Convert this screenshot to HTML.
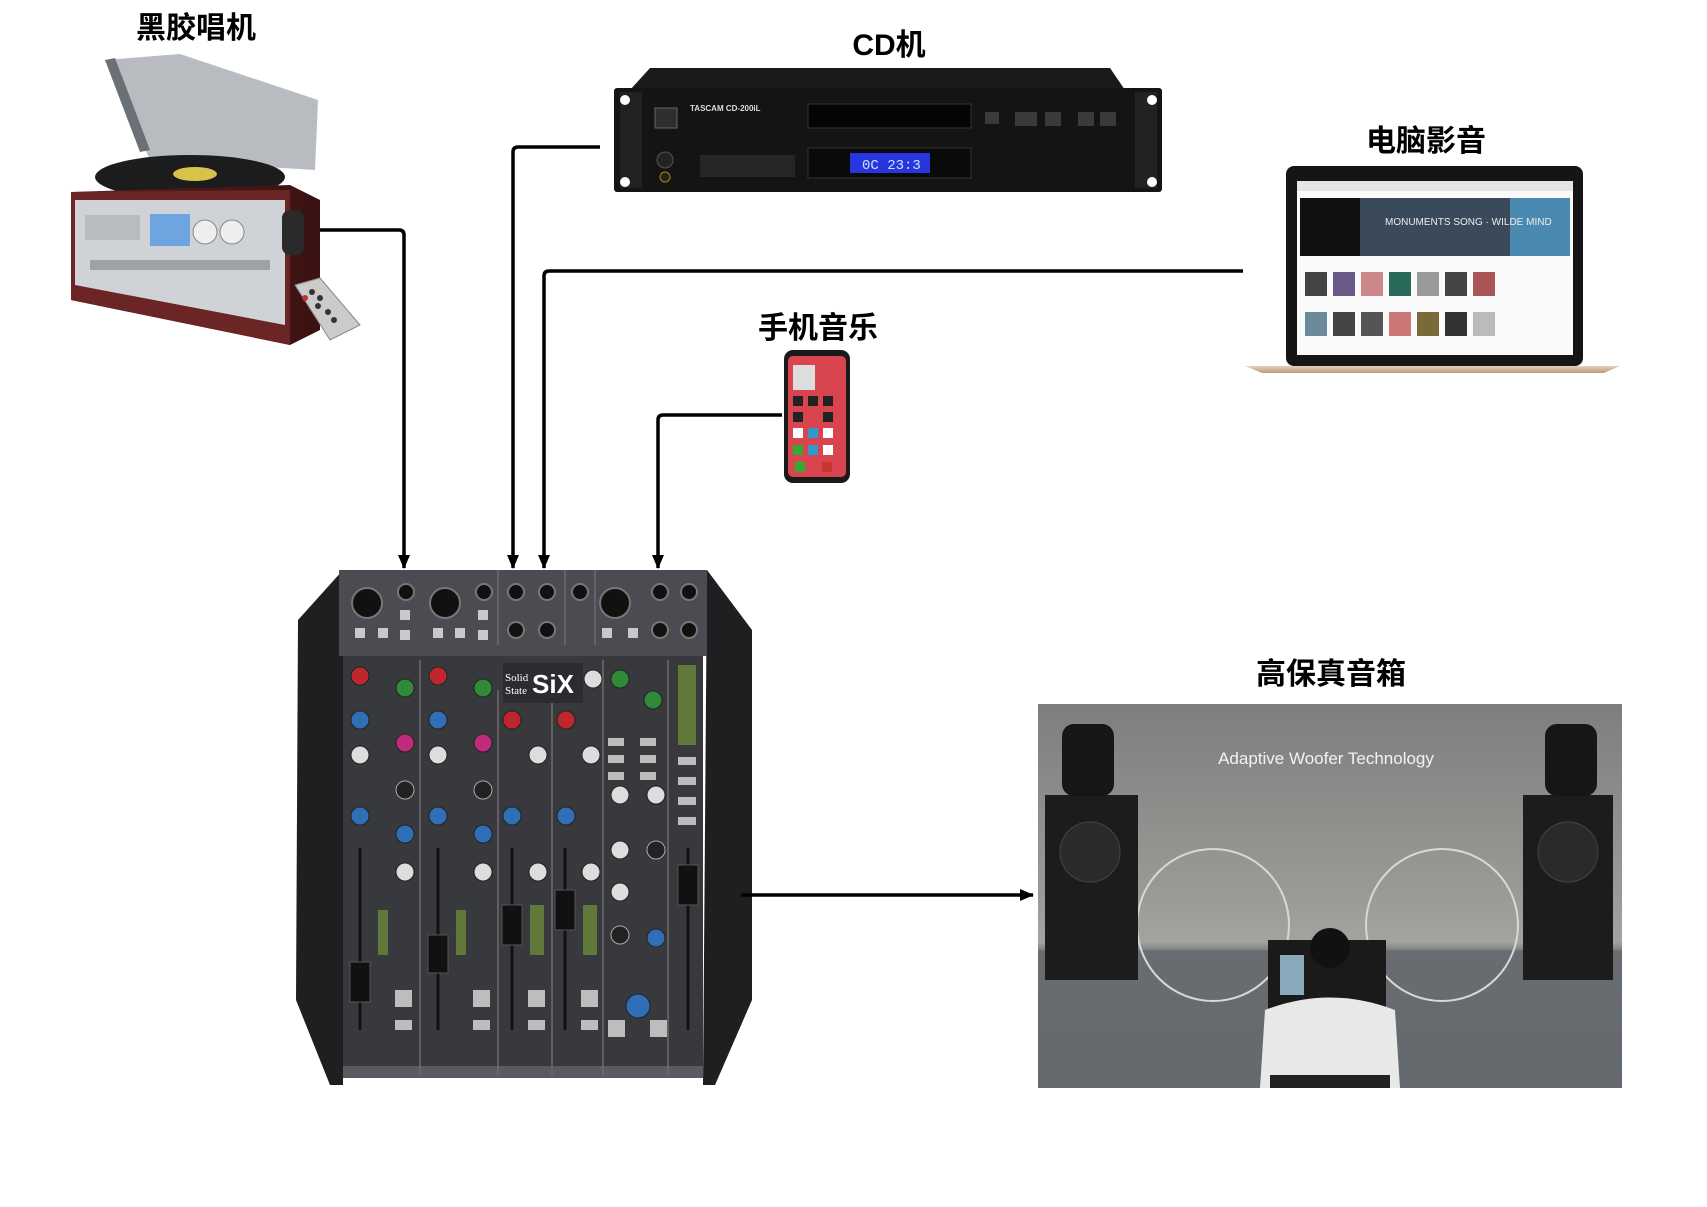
<!DOCTYPE html>
<html><head><meta charset="utf-8"><style>
html,body{margin:0;padding:0;background:#fff;}
body{width:1707px;height:1207px;position:relative;overflow:hidden;font-family:"Liberation Sans","Noto Sans CJK SC",sans-serif;}
.lbl{position:absolute;font-size:30px;font-weight:bold;color:#000;transform:translateX(-50%);white-space:nowrap;line-height:1;font-family:"Liberation Sans","Noto Sans CJK SC",sans-serif;}
</style></head><body>
<div class="lbl" style="left:196px;top:14px;">黑胶唱机</div>
<div class="lbl" style="left:889px;top:31px;">CD机</div>
<div class="lbl" style="left:1426px;top:127px;">电脑影音</div>
<div class="lbl" style="left:818px;top:314px;">手机音乐</div>
<div class="lbl" style="left:1331px;top:660px;">高保真音箱</div>
<svg width="1707" height="1207" style="position:absolute;left:0;top:0" xmlns="http://www.w3.org/2000/svg">
<defs>
<marker id="ar" markerWidth="14" markerHeight="12" refX="13" refY="6" orient="auto" markerUnits="userSpaceOnUse" viewBox="0 0 14 12">
<path d="M0,0 L14,6 L0,12 Z" fill="#000"/></marker>
<linearGradient id="wall" x1="0" y1="0" x2="0" y2="1"><stop offset="0" stop-color="#7e7f7d"/><stop offset="0.5" stop-color="#9a9a97"/><stop offset="0.62" stop-color="#a3a3a0"/><stop offset="0.65" stop-color="#6f7275"/><stop offset="1" stop-color="#5d6064"/></linearGradient>
<linearGradient id="gold" x1="0" y1="0" x2="0" y2="1"><stop offset="0" stop-color="#e6d3b8"/><stop offset="1" stop-color="#b89a78"/></linearGradient>
<linearGradient id="wood" x1="0" y1="0" x2="1" y2="0"><stop offset="0" stop-color="#5a1f1f"/><stop offset="1" stop-color="#3a1212"/></linearGradient>
</defs>

<!-- Turntable -->
<g>
<polygon points="105,60 180,54 318,100 315,170 150,160" fill="#9aa0a6" opacity="0.7"/>
<polygon points="105,60 115,58 150,150 140,152" fill="#6a7076"/>
<ellipse cx="190" cy="177" rx="95" ry="22" fill="#1c1c1c"/>
<ellipse cx="195" cy="174" rx="22" ry="7" fill="#d8c34a"/>
<polygon points="71,192 290,185 320,200 320,330 290,345 71,300" fill="url(#wood)"/>
<polygon points="71,192 290,190 290,345 71,300" fill="#6b2525"/>
<polygon points="75,200 285,200 285,325 75,285" fill="#cfd2d6"/>
<rect x="150" y="214" width="40" height="32" fill="#6ea4e0"/>
<circle cx="205" cy="232" r="12" fill="#eee" stroke="#888"/>
<circle cx="232" cy="232" r="12" fill="#eee" stroke="#888"/>
<rect x="85" y="215" width="55" height="25" fill="#b8bbbf"/>
<rect x="90" y="260" width="180" height="10" fill="#9ea2a6"/>
<rect x="282" y="210" width="22" height="45" rx="8" fill="#2a2a2a"/>
<polygon points="295,285 320,278 360,325 330,340" fill="#cbcbcb" stroke="#888"/>
<g fill="#333"><circle cx="312" cy="292" r="3"/><circle cx="320" cy="298" r="3"/><circle cx="318" cy="306" r="3"/><circle cx="328" cy="312" r="3"/><circle cx="334" cy="320" r="3"/><circle cx="305" cy="298" r="3" fill="#b33"/></g>
</g>

<!-- CD player -->
<g>
<polygon points="650,68 1110,68 1125,90 630,90" fill="#1a1a1a"/>
<rect x="614" y="88" width="548" height="104" rx="3" fill="#141414"/>
<rect x="620" y="92" width="22" height="96" fill="#222"/>
<rect x="1135" y="92" width="22" height="96" fill="#222"/>
<circle cx="625" cy="100" r="5" fill="#fff"/><circle cx="625" cy="182" r="5" fill="#fff"/>
<circle cx="1152" cy="100" r="5" fill="#fff"/><circle cx="1152" cy="182" r="5" fill="#fff"/>
<rect x="655" y="108" width="22" height="20" fill="#2e2e2e" stroke="#666"/>
<text x="690" y="111" font-size="8" fill="#ddd" font-family="Liberation Sans" font-weight="bold">TASCAM  CD-200iL</text>
<rect x="808" y="104" width="163" height="24" fill="#050505" stroke="#333"/>
<rect x="808" y="148" width="163" height="30" fill="#0a0a0a" stroke="#333"/>
<rect x="850" y="153" width="80" height="20" fill="#2836e0"/>
<text x="862" y="169" font-size="14" fill="#cfe0ff" font-family="Liberation Mono">0C 23:3</text>
<rect x="700" y="155" width="95" height="22" fill="#262626"/>
<g fill="#3a3a3a"><rect x="985" y="112" width="14" height="12"/><rect x="1015" y="112" width="22" height="14"/><rect x="1045" y="112" width="16" height="14"/><rect x="1078" y="112" width="16" height="14"/><rect x="1100" y="112" width="16" height="14"/></g>
<circle cx="665" cy="160" r="8" fill="#222" stroke="#555"/><circle cx="665" cy="177" r="5" fill="#222" stroke="#a80"/>
</g>

<!-- Laptop -->
<g>
<rect x="1286" y="166" width="297" height="200" rx="8" fill="#151515"/>
<rect x="1297" y="181" width="276" height="174" fill="#fafafa"/>
<rect x="1297" y="181" width="276" height="10" fill="#e5e5e5"/>
<rect x="1300" y="198" width="60" height="58" fill="#111"/>
<rect x="1360" y="198" width="150" height="58" fill="#3a4a5a"/>
<rect x="1510" y="198" width="60" height="58" fill="#4a8ab0"/>
<text x="1385" y="225" font-size="10" fill="#eee" font-family="Liberation Sans">MONUMENTS SONG · WILDE MIND</text>
<g fill="#444">
<rect x="1305" y="272" width="22" height="24"/><rect x="1333" y="272" width="22" height="24" fill="#6a5a8a"/><rect x="1361" y="272" width="22" height="24" fill="#c88"/><rect x="1389" y="272" width="22" height="24" fill="#2a6a5a"/><rect x="1417" y="272" width="22" height="24" fill="#999"/><rect x="1445" y="272" width="22" height="24"/><rect x="1473" y="272" width="22" height="24" fill="#a55"/>
<rect x="1305" y="312" width="22" height="24" fill="#6a8a9a"/><rect x="1333" y="312" width="22" height="24"/><rect x="1361" y="312" width="22" height="24" fill="#555"/><rect x="1389" y="312" width="22" height="24" fill="#c77"/><rect x="1417" y="312" width="22" height="24" fill="#7a6a3a"/><rect x="1445" y="312" width="22" height="24" fill="#333"/><rect x="1473" y="312" width="22" height="24" fill="#bbb"/>
</g>
<polygon points="1245,366 1620,366 1604,373 1262,373" fill="url(#gold)"/>
</g>

<!-- Phone -->
<g>
<rect x="784" y="350" width="66" height="133" rx="9" fill="#1a1a1a"/>
<rect x="788" y="356" width="58" height="121" rx="5" fill="#d9454f"/>
<rect x="793" y="365" width="22" height="25" fill="#ddd"/>
<g fill="#222"><rect x="793" y="396" width="10" height="10"/><rect x="808" y="396" width="10" height="10"/><rect x="823" y="396" width="10" height="10"/><rect x="793" y="412" width="10" height="10"/><rect x="823" y="412" width="10" height="10"/></g>
<g fill="#fff"><rect x="793" y="428" width="10" height="10"/><rect x="808" y="428" width="10" height="10" fill="#39c"/><rect x="823" y="428" width="10" height="10"/><rect x="793" y="445" width="10" height="10" fill="#3a3"/><rect x="808" y="445" width="10" height="10" fill="#39c"/><rect x="823" y="445" width="10" height="10"/><rect x="795" y="462" width="10" height="10" fill="#3a3"/><rect x="822" y="462" width="10" height="10" fill="#c33"/></g>
</g>

<!-- Speakers photo -->
<g>
<rect x="1038" y="704" width="584" height="384" fill="url(#wall)"/>
<polygon points="1038,950 1622,950 1622,1088 1038,1088" fill="#676b70" opacity="0.8"/>
<text x="1326" y="764" font-size="17" fill="#f2f2f2" text-anchor="middle" font-family="Liberation Sans">Adaptive Woofer Technology</text>
<circle cx="1213" cy="925" r="76" fill="none" stroke="#d8d8d8" stroke-width="2"/>
<circle cx="1442" cy="925" r="76" fill="none" stroke="#d8d8d8" stroke-width="2"/>
<rect x="1045" y="795" width="93" height="185" fill="#1c1c1c"/>
<circle cx="1090" cy="852" r="30" fill="#2a2a2a" stroke="#444"/>
<rect x="1062" y="724" width="52" height="72" rx="12" fill="#161616"/>
<rect x="1523" y="795" width="90" height="185" fill="#1c1c1c"/>
<circle cx="1568" cy="852" r="30" fill="#2a2a2a" stroke="#444"/>
<rect x="1545" y="724" width="52" height="72" rx="12" fill="#161616"/>
<rect x="1268" y="940" width="118" height="80" fill="#1a1a1a"/>
<rect x="1280" y="955" width="24" height="40" fill="#8ab"/>
<circle cx="1330" cy="948" r="20" fill="#111"/>
<path d="M1260,1088 L1265,1010 Q1330,985 1395,1010 L1400,1088 Z" fill="#e8e8e8"/>
<rect x="1270" y="1075" width="120" height="13" fill="#222"/>
</g>

<!-- Mixer -->
<g>
<polygon points="343,570 298,620 296,1000 330,1085 343,1085" fill="#1f1f22"/>
<polygon points="707,570 752,630 752,1000 715,1085 703,1085" fill="#1f1f22"/>
<rect x="339" y="570" width="368" height="86" fill="#4b4c51"/>
<rect x="343" y="656" width="360" height="422" fill="#38393d"/>
<rect x="343" y="1066" width="360" height="12" fill="#5a5b60"/>
<g stroke="#6a6b70" stroke-width="1.5">
<line x1="420" y1="660" x2="420" y2="1075"/><line x1="498" y1="690" x2="498" y2="1075"/><line x1="552" y1="700" x2="552" y2="1075"/><line x1="603" y1="660" x2="603" y2="1075"/><line x1="668" y1="660" x2="668" y2="1075"/>
<line x1="498" y1="570" x2="498" y2="645"/><line x1="565" y1="570" x2="565" y2="645"/><line x1="595" y1="570" x2="595" y2="645"/></g>
<g fill="#111" stroke="#777" stroke-width="2">
<circle cx="367" cy="603" r="15"/><circle cx="445" cy="603" r="15"/><circle cx="615" cy="603" r="15"/>
<circle cx="406" cy="592" r="8"/><circle cx="484" cy="592" r="8"/><circle cx="516" cy="592" r="8"/><circle cx="547" cy="592" r="8"/><circle cx="580" cy="592" r="8"/><circle cx="660" cy="592" r="8"/><circle cx="689" cy="592" r="8"/>
<circle cx="516" cy="630" r="8"/><circle cx="547" cy="630" r="8"/><circle cx="660" cy="630" r="8"/><circle cx="689" cy="630" r="8"/></g>
<g fill="#c9c9c9"><rect x="400" y="610" width="10" height="10"/><rect x="400" y="630" width="10" height="10"/><rect x="478" y="610" width="10" height="10"/><rect x="478" y="630" width="10" height="10"/><rect x="355" y="628" width="10" height="10"/><rect x="378" y="628" width="10" height="10"/><rect x="433" y="628" width="10" height="10"/><rect x="455" y="628" width="10" height="10"/><rect x="602" y="628" width="10" height="10"/><rect x="628" y="628" width="10" height="10"/></g>
<rect x="503" y="663" width="80" height="40" fill="#2b2c30"/>
<text x="505" y="681" font-size="11" fill="#fff" font-family="Liberation Serif">Solid</text>
<text x="505" y="694" font-size="11" fill="#fff" font-family="Liberation Serif">State</text>
<text x="532" y="693" font-size="26" fill="#fff" font-weight="bold" font-family="Liberation Sans">SiX</text>
<g stroke="#222" stroke-width="1">
<circle cx="360" cy="676" r="9" fill="#c0272d"/><circle cx="438" cy="676" r="9" fill="#c0272d"/><circle cx="405" cy="688" r="9" fill="#2f8a3a"/><circle cx="483" cy="688" r="9" fill="#2f8a3a"/>
<circle cx="593" cy="679" r="9" fill="#ddd"/><circle cx="620" cy="679" r="9" fill="#2f8a3a"/><circle cx="653" cy="700" r="9" fill="#2f8a3a"/>
<circle cx="360" cy="720" r="9" fill="#2e6fb8"/><circle cx="438" cy="720" r="9" fill="#2e6fb8"/><circle cx="512" cy="720" r="9" fill="#c0272d"/><circle cx="566" cy="720" r="9" fill="#c0272d"/>
<circle cx="405" cy="743" r="9" fill="#c02a7a"/><circle cx="483" cy="743" r="9" fill="#c02a7a"/>
<circle cx="360" cy="755" r="9" fill="#ddd"/><circle cx="438" cy="755" r="9" fill="#ddd"/><circle cx="538" cy="755" r="9" fill="#ddd"/><circle cx="591" cy="755" r="9" fill="#ddd"/>
<circle cx="405" cy="790" r="9" fill="#222" stroke="#aaa"/><circle cx="483" cy="790" r="9" fill="#222" stroke="#aaa"/>
<circle cx="360" cy="816" r="9" fill="#2e6fb8"/><circle cx="438" cy="816" r="9" fill="#2e6fb8"/><circle cx="512" cy="816" r="9" fill="#2e6fb8"/><circle cx="566" cy="816" r="9" fill="#2e6fb8"/>
<circle cx="405" cy="834" r="9" fill="#2e6fb8"/><circle cx="483" cy="834" r="9" fill="#2e6fb8"/>
<circle cx="405" cy="872" r="9" fill="#ddd"/><circle cx="483" cy="872" r="9" fill="#ddd"/><circle cx="538" cy="872" r="9" fill="#ddd"/><circle cx="591" cy="872" r="9" fill="#ddd"/>
<circle cx="620" cy="795" r="9" fill="#ddd"/><circle cx="656" cy="795" r="9" fill="#ddd"/>
<circle cx="620" cy="850" r="9" fill="#ddd"/><circle cx="656" cy="850" r="9" fill="#222" stroke="#aaa"/>
<circle cx="620" cy="892" r="9" fill="#ddd"/><circle cx="620" cy="935" r="9" fill="#222" stroke="#aaa"/><circle cx="656" cy="938" r="9" fill="#2e6fb8"/>
<circle cx="638" cy="1006" r="12" fill="#2e6fb8"/></g>
<g fill="#bdbdbd"><rect x="608" y="738" width="16" height="8"/><rect x="640" y="738" width="16" height="8"/><rect x="608" y="755" width="16" height="8"/><rect x="640" y="755" width="16" height="8"/><rect x="608" y="772" width="16" height="8"/><rect x="640" y="772" width="16" height="8"/>
<rect x="395" y="990" width="17" height="17"/><rect x="473" y="990" width="17" height="17"/><rect x="528" y="990" width="17" height="17"/><rect x="581" y="990" width="17" height="17"/><rect x="608" y="1020" width="17" height="17"/><rect x="650" y="1020" width="17" height="17"/>
<rect x="395" y="1020" width="17" height="10"/><rect x="473" y="1020" width="17" height="10"/><rect x="528" y="1020" width="17" height="10"/><rect x="581" y="1020" width="17" height="10"/>
<rect x="678" y="757" width="18" height="8"/><rect x="678" y="777" width="18" height="8"/><rect x="678" y="797" width="18" height="8"/><rect x="678" y="817" width="18" height="8"/></g>
<g stroke="#111" stroke-width="3"><line x1="360" y1="848" x2="360" y2="1030"/><line x1="438" y1="848" x2="438" y2="1030"/><line x1="512" y1="848" x2="512" y2="1030"/><line x1="565" y1="848" x2="565" y2="1030"/><line x1="688" y1="848" x2="688" y2="1030"/></g>
<g fill="#111" stroke="#555"><rect x="350" y="962" width="20" height="40"/><rect x="428" y="935" width="20" height="38"/><rect x="502" y="905" width="20" height="40"/><rect x="555" y="890" width="20" height="40"/><rect x="678" y="865" width="20" height="40"/></g>
<g fill="#6a8a3a" opacity="0.8"><rect x="378" y="910" width="10" height="45"/><rect x="456" y="910" width="10" height="45"/><rect x="530" y="905" width="14" height="50"/><rect x="583" y="905" width="14" height="50"/><rect x="678" y="665" width="18" height="80"/></g>
</g>

<!-- Connectors -->
<g fill="none" stroke="#000" stroke-width="3.5" stroke-linejoin="round">
<path d="M320,230 H399 Q404,230 404,235 V568" marker-end="url(#ar)"/>
<path d="M600,147 H518 Q513,147 513,152 V568" marker-end="url(#ar)"/>
<path d="M1243,271 H549 Q544,271 544,276 V568" marker-end="url(#ar)"/>
<path d="M782,415 H663 Q658,415 658,420 V568" marker-end="url(#ar)"/>
<path d="M741,895 H1033" marker-end="url(#ar)"/>
</g>
</svg>
</body></html>
